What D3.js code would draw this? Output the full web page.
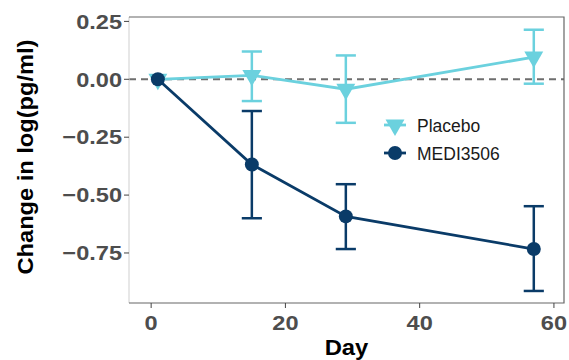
<!DOCTYPE html>
<html>
<head>
<meta charset="utf-8">
<script src="https://cdn.jsdelivr.net/npm/d3@7"></script>
<style>
  body { margin: 0; background: #fff; }
  svg { display: block; font-family: "Liberation Sans", Arial, sans-serif; }
</style>
</head>
<body>
<svg id="chart"></svg>
<script>
// values
const days = [1, 15, 29, 57];
const placeboMean = [0, 0.017, -0.043, 0.096];
const placeboLow = [0, -0.094, -0.188, -0.019];
const placeboHigh = [0, 0.12, 0.103, 0.214];
const mediMean = [0, -0.368, -0.592, -0.733];
const mediLow = [0, -0.6, -0.733, -0.914];
const mediHigh = [0, -0.137, -0.453, -0.548];
const xTicks = [0, 20, 40, 60];
const yTicks = [0.25, 0, -0.25, -0.5, -0.75];
const seriesNames = ['Placebo', 'MEDI3506'];

const width = 569, height = 360;
const panel = {left: 129, right: 564, top: 17, bottom: 303};
const cPlacebo = '#6bd1de';
const cMedi = '#0a3b68';

const svg = d3.select('#chart').attr('width', width).attr('height', height);

const x = d3.scaleLinear().domain([-3.3, 61.5]).range([panel.left, panel.right]);
const y = d3.scaleLinear().domain([-0.966, 0.269]).range([panel.bottom, panel.top]);

// build rows for each series
const makeRows = (mean, low, high) => days.map((d, i) => ({day: d, mean: mean[i], low: low[i], high: high[i]}));
const placebo = makeRows(placeboMean, placeboLow, placeboHigh);
const medi = makeRows(mediMean, mediLow, mediHigh);

// zero reference line
svg.append('line')
  .attr('x1', panel.left).attr('x2', panel.right)
  .attr('y1', y(0)).attr('y2', y(0))
  .attr('stroke', '#6e6e6e').attr('stroke-width', 2)
  .attr('stroke-dasharray', '7,5');

const line = d3.line().x(d => x(d.day)).y(d => y(d.mean));
const triangle = d3.symbol(d3.symbolTriangle, 155);

function drawSeries(rows, color, kind) {
  const g = svg.append('g');
  const bars = rows.filter(d => d.low !== d.high);
  // error bars
  g.selectAll('.eb').data(bars).enter().append('line')
    .attr('x1', d => x(d.day)).attr('x2', d => x(d.day))
    .attr('y1', d => y(d.low)).attr('y2', d => y(d.high))
    .attr('stroke', color).attr('stroke-width', 2.5);
  ['low', 'high'].forEach(k => {
    g.selectAll('.cap-' + k).data(bars).enter().append('line')
      .attr('x1', d => x(d.day - 1.5)).attr('x2', d => x(d.day + 1.5))
      .attr('y1', d => y(d[k])).attr('y2', d => y(d[k]))
      .attr('stroke', color).attr('stroke-width', 2.5);
  });
  g.append('path').datum(rows)
    .attr('d', line).attr('fill', 'none')
    .attr('stroke', color).attr('stroke-width', 2.8);
  if (kind === 'tri') {
    g.selectAll('.pt').data(rows).enter().append('path')
      .attr('d', triangle)
      .attr('transform', d => `translate(${x(d.day)},${y(d.mean)}) rotate(180)`)
      .attr('fill', color);
  } else {
    g.selectAll('.pt').data(rows).enter().append('circle')
      .attr('cx', d => x(d.day)).attr('cy', d => y(d.mean))
      .attr('r', 7).attr('fill', color);
  }
}
drawSeries(placebo, cPlacebo, 'tri');
drawSeries(medi, cMedi, 'dot');

// panel border: left light, others darker
svg.append('line').attr('x1', panel.left).attr('x2', panel.left)
  .attr('y1', panel.top).attr('y2', panel.bottom)
  .attr('stroke', '#cfcfcf').attr('stroke-width', 1);
svg.append('path')
  .attr('d', `M${panel.left},${panel.top}H${panel.right}V${panel.bottom}H${panel.left}`)
  .attr('fill', 'none').attr('stroke', '#666').attr('stroke-width', 1.2);

// helper for slightly wide text
function label(px, py, txt, opts) {
  return svg.append('text')
    .attr('transform', `translate(${px},${py}) scale(${opts.sx || 1},1)`)
    .attr('text-anchor', opts.anchor || 'start')
    .attr('font-size', opts.size)
    .attr('font-weight', opts.weight || 'normal')
    .attr('fill', opts.fill || '#000')
    .text(txt);
}

// axes
const fmt = d3.format('.2f');
yTicks.forEach(t => {
  svg.append('line').attr('x1', panel.left - 5).attr('x2', panel.left)
    .attr('y1', y(t)).attr('y2', y(t)).attr('stroke', '#444').attr('stroke-width', 1);
  label(panel.left - 7, y(t) + 7.3, fmt(t), {anchor: 'end', size: 20.5, weight: 'bold', fill: '#4d4d4d', sx: 1.15});
});
xTicks.forEach(t => {
  svg.append('line').attr('x1', x(t)).attr('x2', x(t))
    .attr('y1', panel.bottom).attr('y2', panel.bottom + 5).attr('stroke', '#444').attr('stroke-width', 1);
  label(x(t), 329.5, t, {anchor: 'middle', size: 20.5, weight: 'bold', fill: '#4d4d4d', sx: 1.15});
});

label((panel.left + panel.right) / 2, 355, 'Day', {anchor: 'middle', size: 22, weight: 'bold', sx: 1.08});
svg.append('text')
  .attr('transform', `translate(33,157) rotate(-90)`)
  .attr('text-anchor', 'middle').attr('font-size', 22.5).attr('font-weight', 'bold')
  .attr('textLength', 235).attr('lengthAdjust', 'spacingAndGlyphs')
  .text('Change in log(pg/ml)');

// legend
const legend = svg.append('g').attr('transform', 'translate(395,125)');
seriesNames.forEach((name, i) => {
  const row = legend.append('g').attr('transform', `translate(0,${i * 28})`);
  const col = i === 0 ? cPlacebo : cMedi;
  row.append('line').attr('x1', -11).attr('x2', 11).attr('stroke', col).attr('stroke-width', 2.8);
  if (i === 0) {
    row.append('path').attr('d', triangle).attr('transform', 'rotate(180)').attr('fill', col);
  } else {
    row.append('circle').attr('r', 7).attr('fill', col);
  }
  row.append('text').attr('x', 22).attr('y', 6.5)
    .attr('font-size', 17.5).attr('fill', '#1a1a1a').text(name);
});
</script>
</body>
</html>
